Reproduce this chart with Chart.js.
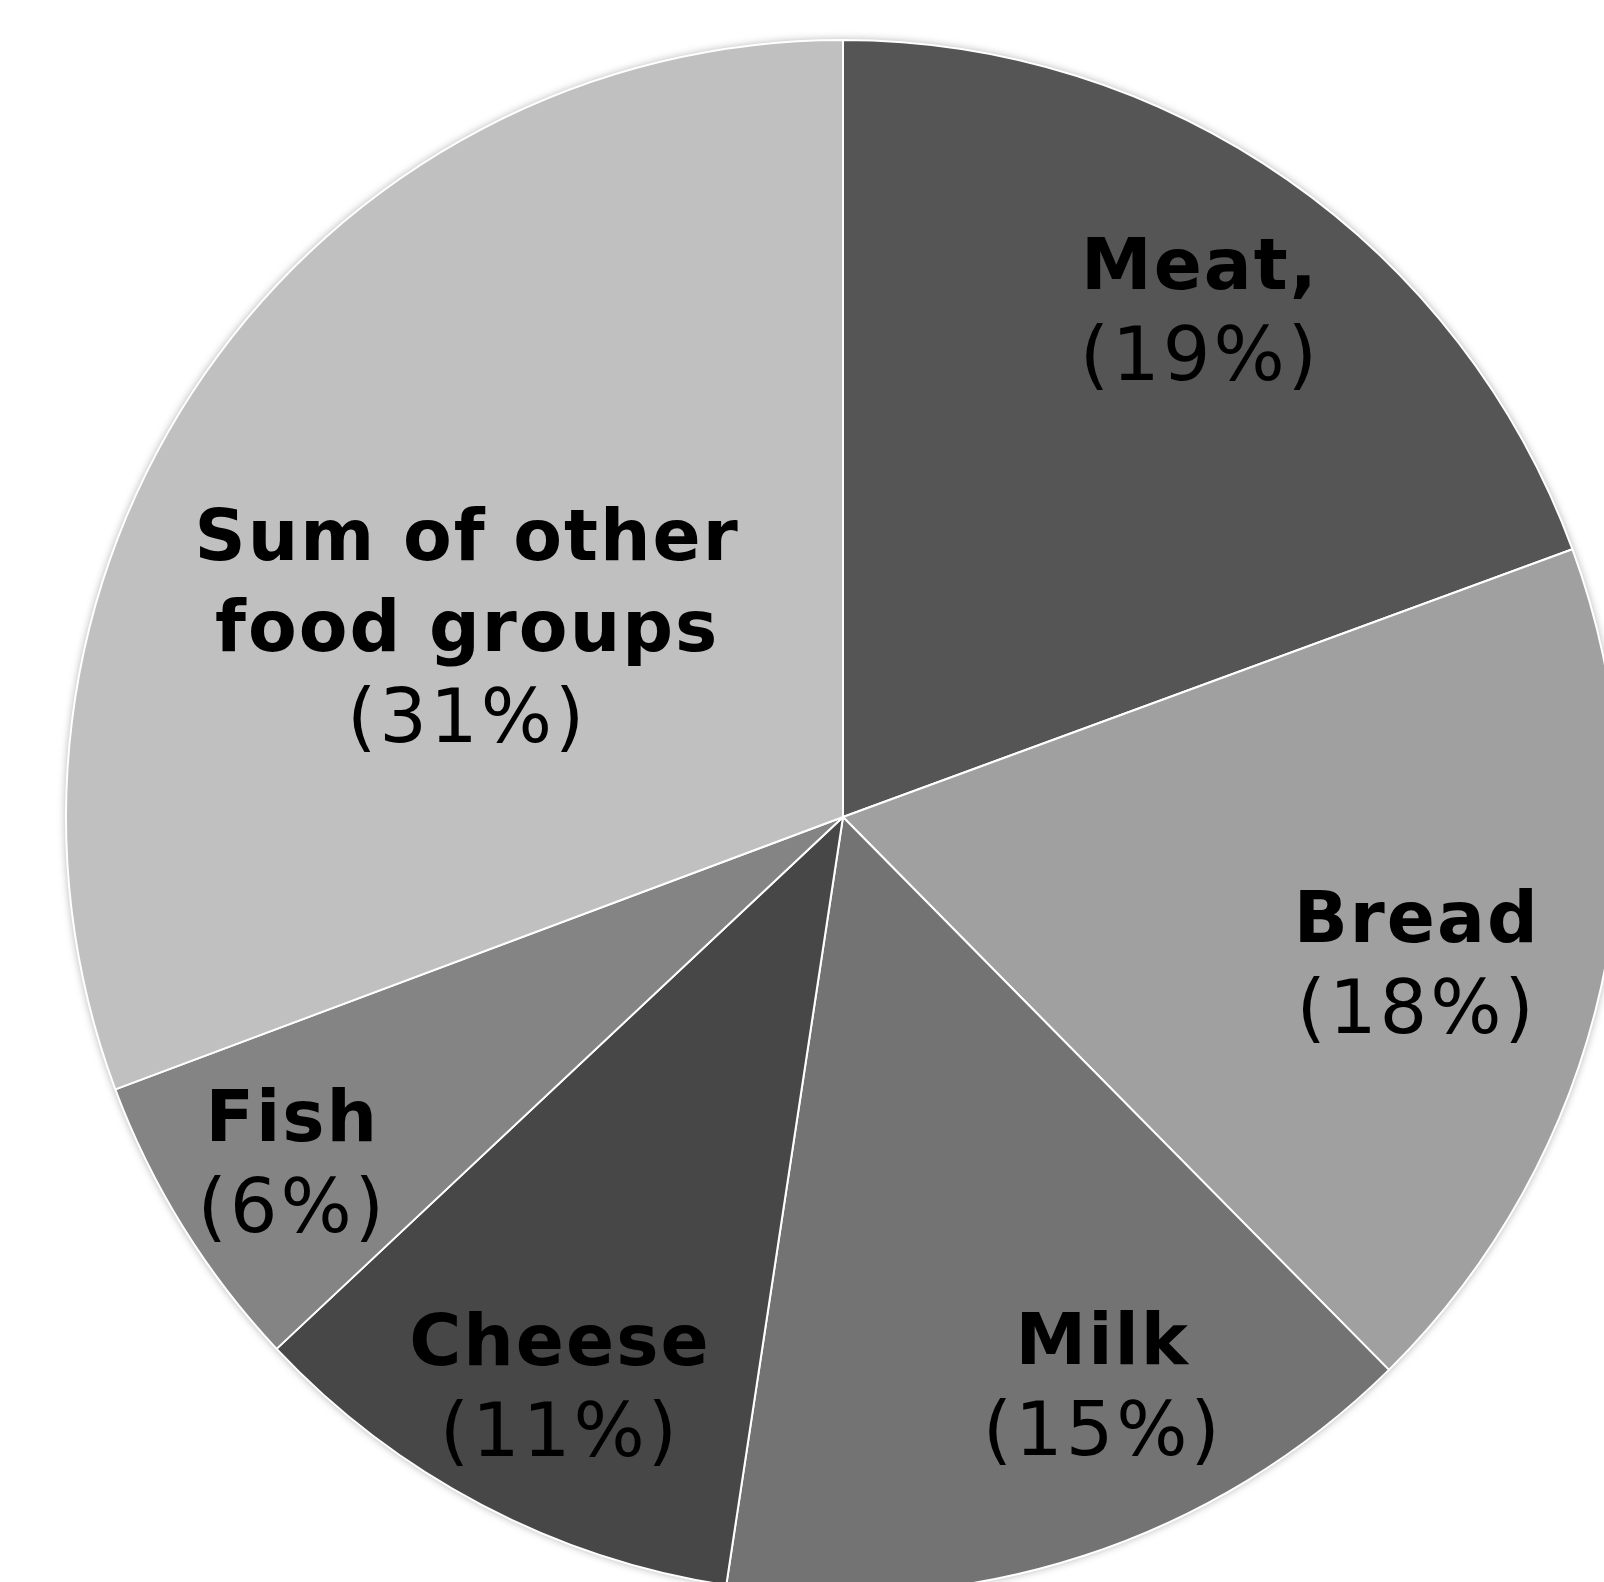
<!DOCTYPE html>
<html>
<head>
<meta charset="utf-8">
<script src="https://cdn.jsdelivr.net/npm/chart.js@4.4.1/dist/chart.umd.min.js"></script>
<style>
  html, body { margin: 0; padding: 0; background: #ffffff; }
  #wrap { width: 1604px; height: 1582px; overflow: hidden; position: relative; }
  #taart { position: absolute; left: 0; top: 0; }
</style>
</head>
<body>
<div id="wrap">
  <canvas id="taart" width="1700" height="1700"></canvas>
</div>
<script>
// Gegevens van de grafiek
const categorieen = [["Meat,"], ["Bread"], ["Milk"], ["Cheese"], ["Fish"], ["Sum of other", "food groups"]];
const aandelen = [19.4, 18.2, 14.8, 10.6, 6.3, 30.7];
const percentLabels = ["(19%)", "(18%)", "(15%)", "(11%)", "(6%)", "(31%)"];
const kleuren = ["#555555", "#a0a0a0", "#737373", "#474747", "#848484", "#c0c0c0"];

// Plaatsing van de labels (fractie van straal, hoekverschuiving in graden)
const labelStraal = [0.80, 0.76, 0.80, 0.816, 0.836, 0.545];
const labelHoek = [0, 1.5, -6.6, -1.1, 0, -7.6];

const lettertype = '"DejaVu Sans", Verdana, sans-serif';

// Zachte schaduw rond de taart
const schaduwPlugin = {
  id: "schaduw",
  beforeDatasetsDraw(chart) {
    const arc = chart.getDatasetMeta(0).data[0];
    if (!arc) return;
    const c = chart.ctx;
    c.save();
    c.shadowColor = "rgba(0,0,0,0.35)";
    c.shadowBlur = 8;
    c.beginPath();
    c.arc(arc.x, arc.y, arc.outerRadius, 0, Math.PI * 2);
    c.fillStyle = "#ffffff";
    c.fill();
    c.restore();
  }
};

// Labels in de taartpunten tekenen
const labelPlugin = {
  id: "labels",
  afterDatasetsDraw(chart) {
    const c = chart.ctx;
    const regel = 91;
    chart.getDatasetMeta(0).data.forEach((arc, i) => {
      const mid = (arc.startAngle + arc.endAngle) / 2 + labelHoek[i] * Math.PI / 180;
      const r = arc.outerRadius * labelStraal[i];
      const x = arc.x + Math.cos(mid) * r;
      const y = arc.y + Math.sin(mid) * r;
      const regels = categorieen[i].map(t => ({ t, vet: true }));
      regels.push({ t: percentLabels[i], vet: false });
      const eerste = y - (regels.length - 1) * regel / 2 + 27;
      c.save();
      c.fillStyle = "#000000";
      c.textAlign = "center";
      c.textBaseline = "alphabetic";
      regels.forEach((rg, j) => {
        if (rg.vet) {
          c.font = "bold 71px " + lettertype;
          c.letterSpacing = "2px";
        } else {
          c.font = "75px " + lettertype;
          c.letterSpacing = "3px";
        }
        c.fillText(rg.t, x + 1, eerste + j * regel);
      });
      c.restore();
    });
  }
};

const ctx = document.getElementById("taart").getContext("2d");

new Chart(ctx, {
  type: "pie",
  data: {
    labels: categorieen.map(c => c.join(" ")),
    datasets: [{
      data: aandelen,
      backgroundColor: kleuren,
      borderColor: "#ffffff",
      borderWidth: 2
    }]
  },
  options: {
    responsive: false,
    animation: false,
    layout: {
      padding: { left: 65, top: 39, right: 79, bottom: 105 }
    },
    plugins: {
      legend: { display: false },
      tooltip: { enabled: false }
    }
  },
  plugins: [schaduwPlugin, labelPlugin]
});
</script>
</body>
</html>
